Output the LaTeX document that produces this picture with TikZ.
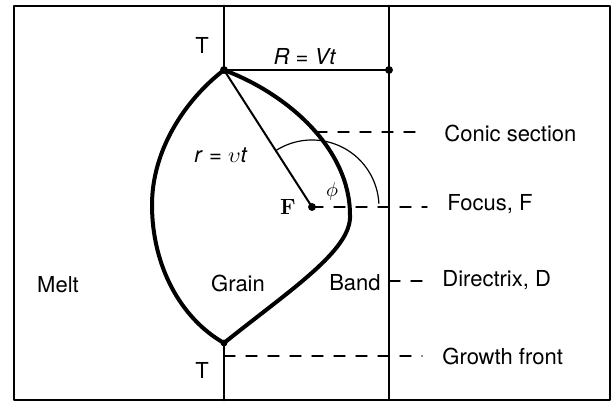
\documentclass[tikz,border=0pt]{standalone}
\usepackage{fontspec}
\setsansfont{TeX Gyre Heros}
\usepackage{tikz}

\begin{document}
\begin{tikzpicture}[x=0.5pt, y=-0.5pt, line cap=round, line join=round,
  font=\sffamily\fontsize{11}{13}\selectfont,
  boundary/.style={line width=2pt},
  guide/.style={line width=0.7pt, dash pattern=on 5.5pt off 5.5pt, shorten >=10pt},
  lbl/.style={anchor=west, inner sep=0pt}]

\useasboundingbox (0,0) rectangle (611,405);

\coordinate (T1) at (224,70);
\coordinate (T2) at (224,343);
\coordinate (B) at (389,70);
\coordinate (F) at (312,207);
\coordinate (S) at (316,132);
\coordinate (D) at (389,281);
\coordinate (G) at (224,356);


\draw[line width=1.3pt] (14,6) rectangle (610,400);
\draw[line width=1.4pt] (224,6) -- (T1);
\draw[line width=1.4pt] (T2) -- (224,400);
\draw[line width=1.2pt] (389,6) -- (389,400);
\draw[line width=1.2pt] (T1) -- (B);


\draw[boundary] (T1) .. controls (185,100) and (152,150) .. (152,205)
  .. controls (152,265) and (180,318) .. (T2);
\draw[boundary] (T1) .. controls (290,95) and (350,150) .. (350,215)
  .. controls (352,250) and (290,290) .. (T2);


\draw[line width=1pt] (T1) -- (F);
\draw[line width=0.6pt] (F) ++(-122.7:67) arc[start angle=-122.7, end angle=-3, radius=67];


\filldraw[black] (T1) circle (3.5);
\filldraw[black] (T2) circle (3);
\filldraw[black] (B) circle (3.5);
\filldraw[black] (F) circle (3.5);


\node (T1lbl) at (202,45) {T};
\node (T2lbl) at (202,370) {T};
\node (Rlbl) at (305,57) {\textit{R} = \textit{Vt}};
\node (rlbl) at (221,155) {\textit{r} = $\upsilon$\textit{t}};
\node (Flbl) at (288,207) {\rmfamily\bfseries F};
\node (philbl) at (332,192) {\fontsize{10}{11}\selectfont$\phi$};
\node (melt) at (58,285) {Melt};
\node (grain) at (238,283) {Grain};
\node (band) at (355,283) {Band};


\node[lbl] (conic) at (444,133) {Conic section};
\node[lbl] (focus) at (447,204) {Focus, F};
\node[lbl] (dir) at (442,280) {Directrix, D};
\node[lbl] (growth) at (442,356) {Growth front};

\draw[guide] (S) -- (S -| conic.west);
\draw[guide] (F) -- (F -| focus.west);
\draw[guide] (D) -- (D -| dir.west);
\draw[guide] (G) -- (G -| growth.west);

\end{tikzpicture}
\end{document}
